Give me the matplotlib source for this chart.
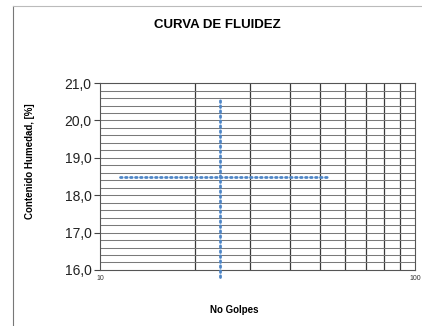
import matplotlib
matplotlib.use("Agg")
import matplotlib.pyplot as plt
import numpy as np
from matplotlib.ticker import FixedLocator, NullFormatter, FixedFormatter

plt.rcParams['font.family'] = ['Liberation Sans', 'DejaVu Sans']

# Data
title = "CURVA DE FLUIDEZ"
xlabel = "No Golpes"
ylabel = "Contenido Humedad, [%]"
x_limits = [10, 100]
y_limits = [16.0, 21.0]
y_ticks = [16.0, 17.0, 18.0, 19.0, 20.0, 21.0]
y_tick_labels = ["16,0", "17,0", "18,0", "19,0", "20,0", "21,0"]
x_ticks = [10, 100]
x_tick_labels = ["10", "100"]
x_grid = [20, 30, 40, 50, 60, 70, 80, 90]
y_grid = [16.2, 16.4, 16.6, 16.8, 17.0, 17.2, 17.4, 17.6, 17.8, 18.0, 18.2, 18.4,
          18.6, 18.8, 19.0, 19.2, 19.4, 19.6, 19.8, 20.0, 20.2, 20.4, 20.6, 20.8]
# Guide lines (dotted)
vline_x = [24, 24]
vline_y = [15.82, 20.58]
hline_x = [11.6, 52.5]
hline_y = [18.5, 18.5]

fig = plt.figure(figsize=(4.22, 3.26), dpi=100)
ax = fig.add_axes([0.237, 0.172, 0.746, 0.573])
ax.set_xscale('log')
ax.set_xlim(*x_limits)
ax.set_ylim(*y_limits)

for gx in x_grid:
    ax.axvline(gx, color='#3a3a3a', lw=0.9, zorder=1)
for gy in y_grid:
    ax.axhline(gy, color='#7a7a7a', lw=0.75, zorder=1)

ax.plot(vline_x, vline_y, color='#4f86c6', lw=2.0, linestyle=(0, (0.6, 1.2)),
        dash_capstyle='round', clip_on=False, zorder=3)
ax.plot(hline_x, hline_y, color='#4f86c6', lw=2.0, linestyle=(0, (0.6, 1.2)),
        dash_capstyle='round', clip_on=False, zorder=3)

ax.yaxis.set_major_locator(FixedLocator(y_ticks))
ax.yaxis.set_major_formatter(FixedFormatter(y_tick_labels))
ax.yaxis.set_minor_locator(FixedLocator([]))
ax.xaxis.set_major_locator(FixedLocator(x_ticks))
ax.xaxis.set_major_formatter(FixedFormatter(x_tick_labels))
ax.xaxis.set_minor_locator(FixedLocator([]))
ax.xaxis.set_minor_formatter(NullFormatter())
ax.tick_params(axis='y', labelsize=10, length=4, width=0.8, color='#444444', pad=2,
               labelcolor='#222222')
ax.tick_params(axis='x', labelsize=5, length=0, pad=4, labelcolor='#333333')

for s in ax.spines.values():
    s.set_color('#555555')
    s.set_linewidth(0.8)

fig.text(0.515, 0.922, title, ha='center', va='center', fontsize=9.5, fontweight='bold')
fig.text(0.555, 0.048, xlabel, ha='center', va='center', fontsize=7, fontweight='bold')
fig.text(0.072, 0.505, ylabel, ha='center', va='center', rotation=90, fontsize=7, fontweight='bold')

# Chart border (left and top)
fig.add_artist(plt.Line2D([0.031, 0.031], [0.0, 0.982], color='#777777', lw=0.8))
fig.add_artist(plt.Line2D([0.031, 1.0], [0.982, 0.982], color='#bbbbbb', lw=0.8))

fig.savefig('out.png', dpi=100)
